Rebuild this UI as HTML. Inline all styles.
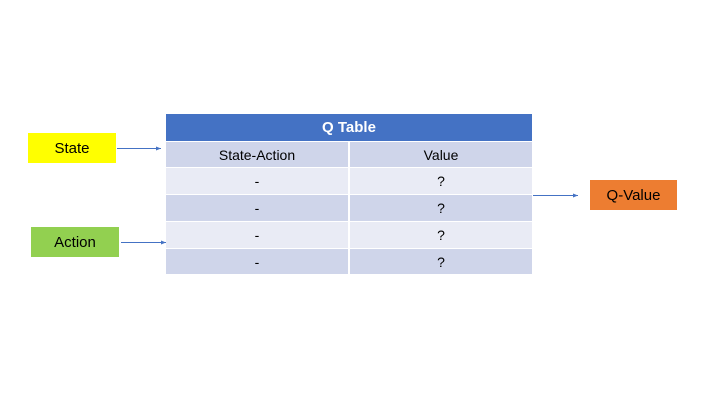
<!DOCTYPE html>
<html><head><style>
body{margin:0;width:720px;height:405px;background:#fff;position:relative;font-family:"Liberation Sans",sans-serif;overflow:hidden}
.b{position:absolute;display:flex;align-items:center;justify-content:center;font-size:15px;color:#000}
.c{position:absolute;display:flex;align-items:center;justify-content:center;font-size:14px;color:#000}
</style></head><body>
<div class="b" style="left:28px;top:133px;width:88px;height:30px;background:#ffff00">State</div>
<div class="b" style="left:31px;top:227px;width:88px;height:30px;background:#92d050">Action</div>
<div class="b" style="left:590px;top:180px;width:87px;height:30px;background:#ed7d31">Q-Value</div>

<div style="position:absolute;left:165px;top:113px;width:368px;height:162px;background:#fff"></div>
<div class="c" style="left:166px;top:114px;width:366px;height:27px;background:#4472c4;color:#fff;font-weight:bold;font-size:15px">Q Table</div>
<div class="c" style="left:166px;top:142px;width:182px;height:25px;background:#cfd5ea">State-Action</div>
<div class="c" style="left:350px;top:142px;width:182px;height:25px;background:#cfd5ea">Value</div>
<div class="c" style="left:166px;top:168px;width:182px;height:26px;background:#e9ebf5">-</div>
<div class="c" style="left:350px;top:168px;width:182px;height:26px;background:#e9ebf5">?</div>
<div class="c" style="left:166px;top:195px;width:182px;height:26px;background:#cfd5ea">-</div>
<div class="c" style="left:350px;top:195px;width:182px;height:26px;background:#cfd5ea">?</div>
<div class="c" style="left:166px;top:222px;width:182px;height:26px;background:#e9ebf5">-</div>
<div class="c" style="left:350px;top:222px;width:182px;height:26px;background:#e9ebf5">?</div>
<div class="c" style="left:166px;top:249px;width:182px;height:25px;background:#cfd5ea">-</div>
<div class="c" style="left:350px;top:249px;width:182px;height:25px;background:#cfd5ea">?</div>

<svg width="720" height="405" style="position:absolute;left:0;top:0">
<defs><marker id="a" markerWidth="6" markerHeight="6" refX="5" refY="3" orient="auto"><path d="M0,1 L5,3 L0,5 z" fill="#4472c4"/></marker></defs>
<g stroke="#4472c4" stroke-width="1" marker-end="url(#a)">
<line x1="117" y1="148.5" x2="161" y2="148.5"/>
<line x1="121" y1="242.5" x2="166" y2="242.5"/>
<line x1="533" y1="195.5" x2="578" y2="195.5"/>
</g></svg>
</body></html>
